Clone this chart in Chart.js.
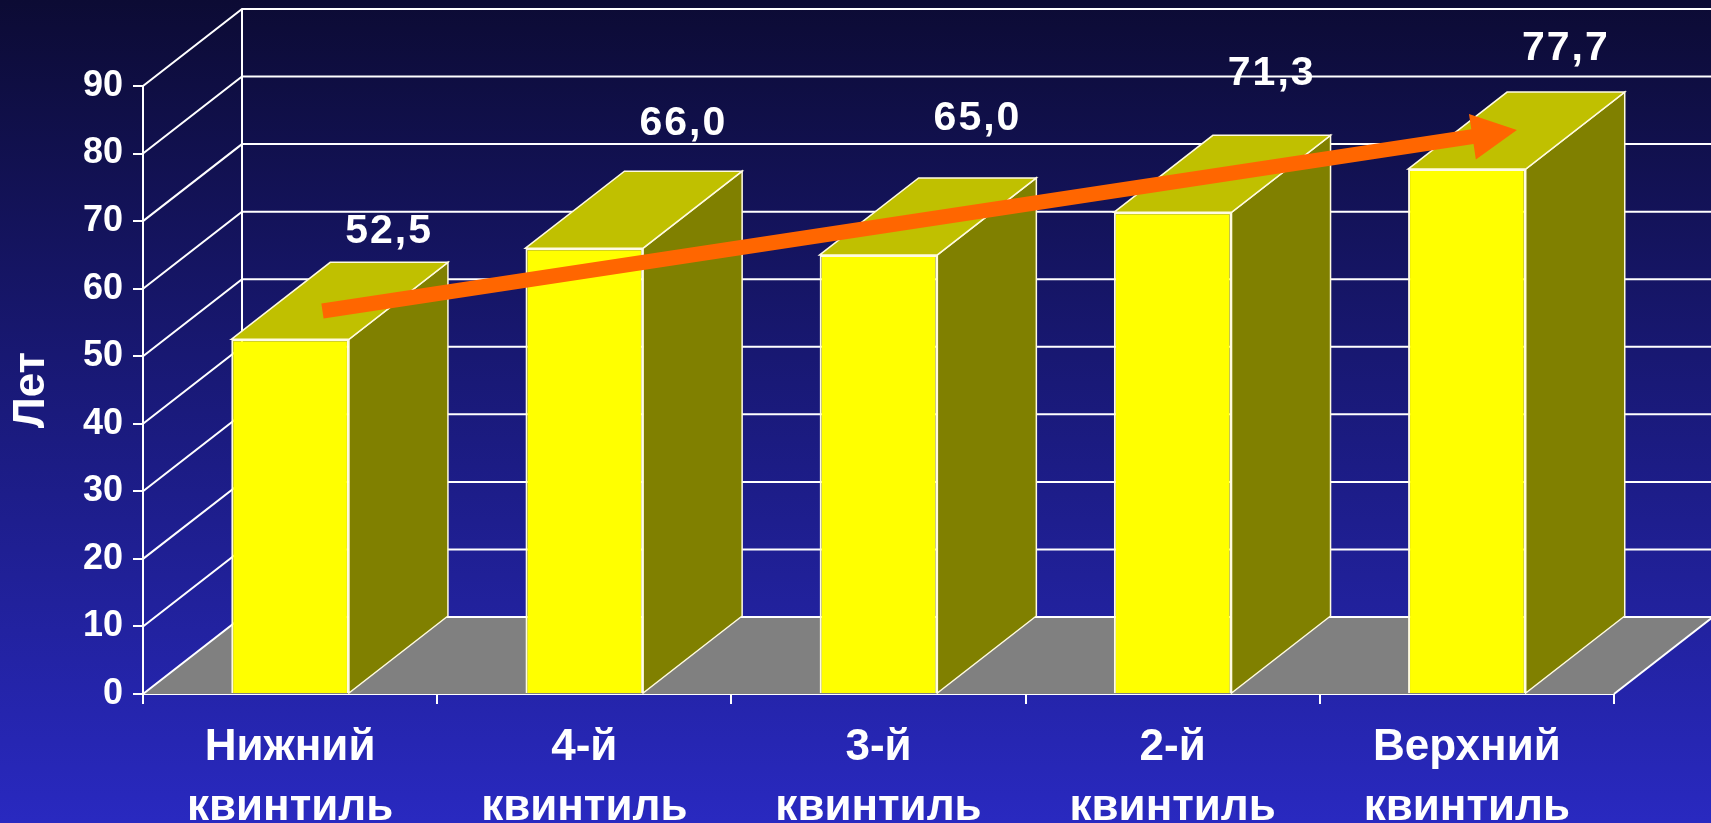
<!DOCTYPE html>
<html>
<head>
<meta charset="utf-8">
<script src="https://cdn.jsdelivr.net/npm/chart.js@4.4.1/dist/chart.umd.min.js"></script>
<style>
html, body { margin: 0; padding: 0; background: #18186a; overflow: hidden; }
#wrap { position: relative; width: 1711px; height: 823px; }
</style>
</head>
<body>
<div id="wrap"><canvas id="quintileChart"></canvas></div>
<script>
// data
var categories = [
    ['Нижний', 'квинтиль'],
    ['4-й', 'квинтиль'],
    ['3-й', 'квинтиль'],
    ['2-й', 'квинтиль'],
    ['Верхний', 'квинтиль']
];
var years = [52.5, 66.0, 65.0, 71.3, 77.7];
var valueLabels = ['52,5', '66,0', '65,0', '71,3', '77,7'];
var yTicks = [0, 10, 20, 30, 40, 50, 60, 70, 80, 90];
// trend arrow, in [category index, value]
var trendFrom = [0.11, 56.7];
var trendTo = [4.17, 83.5];

// look of the fake 3d
var DX = 99, DY = -77;
var labelLift = [19, 36, 48, 50, 32];
var FONT = "'Liberation Sans', Arial, sans-serif";

var fake3d = {
    id: 'fake3d',
    beforeDraw: function (chart) {
        var ctx = chart.ctx;
        var g = ctx.createLinearGradient(0, 0, 0, chart.height);
        g.addColorStop(0, '#0c0b34');
        g.addColorStop(0.5, '#1a1a7c');
        g.addColorStop(1, '#2929c0');
        ctx.save();
        ctx.fillStyle = g;
        ctx.fillRect(0, 0, chart.width, chart.height);
        ctx.restore();
    },
    beforeDatasetsDraw: function (chart) {
        var ctx = chart.ctx;
        var x = chart.scales.x, y = chart.scales.y;
        var a = chart.chartArea;
        var y0 = y.getPixelForValue(0);
        ctx.save();
        // floor
        ctx.fillStyle = '#808080';
        ctx.beginPath();
        ctx.moveTo(a.left, y0);
        ctx.lineTo(a.right, y0);
        ctx.lineTo(a.right + DX, y0 + DY);
        ctx.lineTo(a.left + DX, y0 + DY);
        ctx.closePath();
        ctx.fill();
        ctx.strokeStyle = '#ffffff';
        ctx.lineWidth = 2;
        ctx.beginPath();
        ctx.moveTo(a.right, y0);
        ctx.lineTo(a.right + DX, y0 + DY);
        ctx.stroke();
        // walls
        ctx.lineWidth = 2;
        yTicks.forEach(function (v) {
            var py = y.getPixelForValue(v);
            ctx.beginPath();
            ctx.moveTo(a.left, py);
            ctx.lineTo(a.left + DX, py + DY);
            ctx.lineTo(chart.width + 5, py + DY);
            ctx.stroke();
        });
        ctx.beginPath();
        ctx.moveTo(a.left + DX, y0 + DY);
        ctx.lineTo(a.left + DX, y.getPixelForValue(90) + DY);
        ctx.stroke();
        // side and top of each bar
        var meta = chart.getDatasetMeta(0);
        ctx.lineWidth = 1.5;
        ctx.strokeStyle = '#fffbe0';
        meta.data.forEach(function (bar) {
            var l = bar.x - bar.width / 2, r = bar.x + bar.width / 2;
            var t = bar.y, b = bar.base;
            ctx.fillStyle = '#808000';
            ctx.beginPath();
            ctx.moveTo(r, t);
            ctx.lineTo(r + DX, t + DY);
            ctx.lineTo(r + DX, b + DY);
            ctx.lineTo(r, b);
            ctx.closePath();
            ctx.fill();
            ctx.stroke();
            ctx.fillStyle = '#c0c000';
            ctx.beginPath();
            ctx.moveTo(l, t);
            ctx.lineTo(l + DX, t + DY);
            ctx.lineTo(r + DX, t + DY);
            ctx.lineTo(r, t);
            ctx.closePath();
            ctx.fill();
            ctx.stroke();
        });
        ctx.restore();
    },
    afterDatasetsDraw: function (chart) {
        var ctx = chart.ctx;
        var x = chart.scales.x, y = chart.scales.y;
        ctx.save();
        // trend arrow
        var x0 = x.getPixelForValue(trendFrom[0]), y0 = y.getPixelForValue(trendFrom[1]);
        var x1 = x.getPixelForValue(trendTo[0]), y1 = y.getPixelForValue(trendTo[1]);
        var ang = Math.atan2(y1 - y0, x1 - x0);
        var len = Math.hypot(x1 - x0, y1 - y0);
        ctx.translate(x0, y0);
        ctx.rotate(ang);
        ctx.fillStyle = '#ff6600';
        ctx.beginPath();
        ctx.moveTo(0, -7.5);
        ctx.lineTo(len - 45, -7.5);
        ctx.lineTo(len - 45, -23);
        ctx.lineTo(len, 0);
        ctx.lineTo(len - 45, 23);
        ctx.lineTo(len - 45, 7.5);
        ctx.lineTo(0, 7.5);
        ctx.closePath();
        ctx.fill();
        ctx.restore();

        // value labels above the bars
        ctx.save();
        ctx.fillStyle = '#ffffff';
        ctx.font = 'bold 41px ' + FONT;
        ctx.textAlign = 'center';
        ctx.textBaseline = 'alphabetic';
        if ('letterSpacing' in ctx) ctx.letterSpacing = '2px';
        chart.getDatasetMeta(0).data.forEach(function (bar, i) {
            ctx.fillText(valueLabels[i], bar.x + DX, bar.y + DY - labelLift[i]);
        });
        ctx.restore();
    }
};

var ctx = document.getElementById('quintileChart').getContext('2d');
var quintileChart = new Chart(ctx, {
    type: 'bar',
    data: {
        labels: categories,
        datasets: [{
            data: years,
            backgroundColor: '#ffff00',
            borderColor: '#fffbe0',
            borderWidth: 2,
            categoryPercentage: 1,
            barPercentage: 0.4
        }]
    },
    plugins: [fake3d],
    options: {
        responsive: true,
        maintainAspectRatio: false,
        animation: false,
        layout: { padding: { top: 86, right: 97, left: 0, bottom: 0 } },
        plugins: {
            legend: { display: false },
            tooltip: { enabled: false }
        },
        scales: {
            x: {
                offset: true,
                grid: { display: true, drawOnChartArea: false, drawTicks: true, tickLength: 10, color: '#ffffff', lineWidth: 2, offset: true },
                border: { display: true, color: '#ffffff', width: 2 },
                ticks: {
                    color: '#ffffff',
                    font: { family: FONT, size: 44, weight: 'bold', lineHeight: 1.36 },
                    padding: 14,
                    maxRotation: 0,
                    autoSkip: false
                },
                afterFit: function (scale) { scale.height = 129; }
            },
            y: {
                min: 0,
                max: 90,
                grid: { display: true, drawOnChartArea: false, drawTicks: true, tickLength: 10, color: '#ffffff', lineWidth: 2 },
                border: { display: true, color: '#ffffff', width: 2 },
                ticks: {
                    stepSize: 10,
                    color: '#ffffff',
                    font: { family: FONT, size: 36, weight: 'bold' },
                    padding: 10
                },
                title: {
                    display: true,
                    text: 'Лет',
                    color: '#ffffff',
                    font: { family: FONT, size: 44, weight: 'bold' },
                    padding: { top: 5, bottom: 0 }
                },
                afterFit: function (scale) { scale.width = 143; }
            }
        }
    }
});
</script>
</body>
</html>
